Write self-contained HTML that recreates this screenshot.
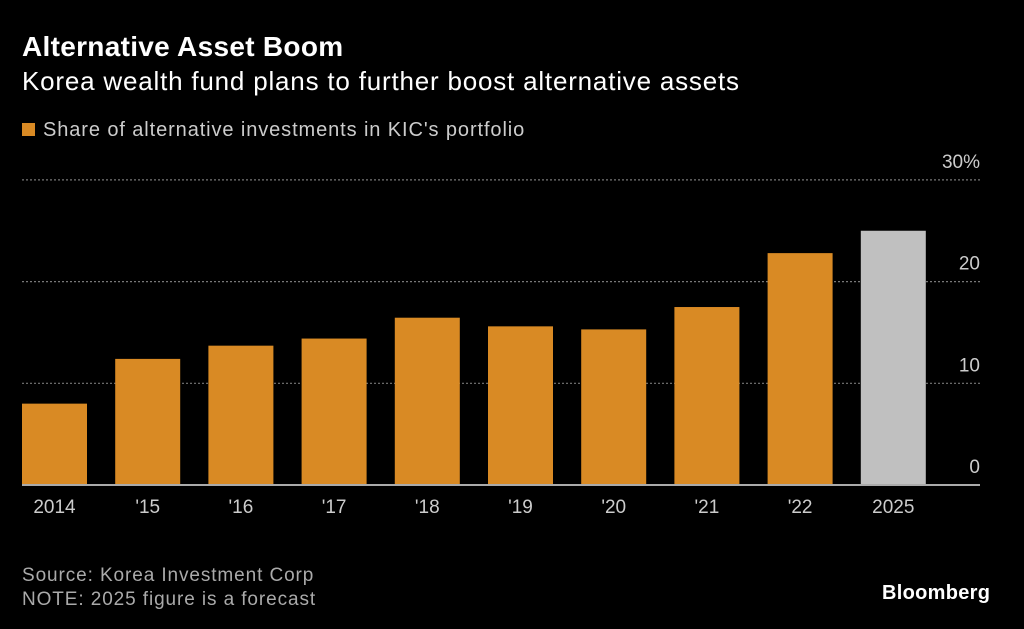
<!DOCTYPE html>
<html><head><meta charset="utf-8"><style>
body{margin:0;width:1024px;height:629px;background:#000;font-family:"Liberation Sans",sans-serif;color:#fff;overflow:hidden;position:relative}
.t{position:absolute;left:22px;white-space:nowrap}
</style></head><body>
<div class="t" style="top:31px;font-size:28px;font-weight:bold;letter-spacing:0.3px">Alternative Asset Boom</div>
<div class="t" style="top:66px;font-size:26px;letter-spacing:0.8px">Korea wealth fund plans to further boost alternative assets</div>
<div class="t" style="top:119px;font-size:20px;color:#ccc;letter-spacing:0.9px"><span style="display:inline-block;width:13px;height:13px;background:#d98a24;margin-right:8px"></span>Share of alternative investments in KIC's portfolio</div>
<svg id="c" width="1024" height="629" style="position:absolute;left:0;top:0"></svg>
<div class="t" style="top:564px;font-size:19px;color:#aaa;line-height:24px;letter-spacing:0.9px">Source: Korea Investment Corp<br>NOTE: 2025 figure is a forecast</div>
<div class="t" style="left:882px;top:582px;font-size:20px;font-weight:bold;letter-spacing:0.3px">Bloomberg</div>
<script>
const categories=["2014","'15","'16","'17","'18","'19","'20","'21","'22","2025"];
const values=[8.0,12.4,13.7,14.4,16.45,15.6,15.3,17.5,22.8,25.0];
const forecast=[false,false,false,false,false,false,false,false,false,true];
const ticks=[0,10,20,30];
const tickLabels=["0","10","20","30%"];
const svg=document.getElementById('c');
const NS='http://www.w3.org/2000/svg';
const y0=485,ppu=10.17,x0=22,step=93.2,bw=65;
const y=v=>y0-v*ppu;
const x=i=>x0+i*step;
function mk(t,a){const e=document.createElementNS(NS,t);for(const k in a)e.setAttribute(k,a[k]);svg.appendChild(e);return e;}
ticks.forEach((t,i)=>{
 if(t>0){const l=mk('line',{x1:22,x2:980,y1:y(t),y2:y(t),stroke:'#777','stroke-width':1.2,'stroke-dasharray':'2,2'});
 
 }
 const tx=mk('text',{x:980,y:y(t)-12,'text-anchor':'end',fill:'#ccc','font-size':19,'font-family':'Liberation Sans, sans-serif'});
 tx.textContent=tickLabels[i];
 
 
});
values.forEach((v,i)=>{
 const r=mk('rect',{x:x(i),y:y(v),width:bw,height:y0-y(v),fill:forecast[i]?'#c0c0c0':'#d98a24'});
 
 
 const tx=mk('text',{x:x(i)+bw/2,y:513,'text-anchor':'middle',fill:'#ccc','font-size':19,'font-family':'Liberation Sans, sans-serif'});
 tx.textContent=categories[i];
 
 
});
const b=mk('line',{x1:22,x2:980,y1:y0,y2:y0,stroke:'#aaa','stroke-width':2});


</script>
</body></html>
